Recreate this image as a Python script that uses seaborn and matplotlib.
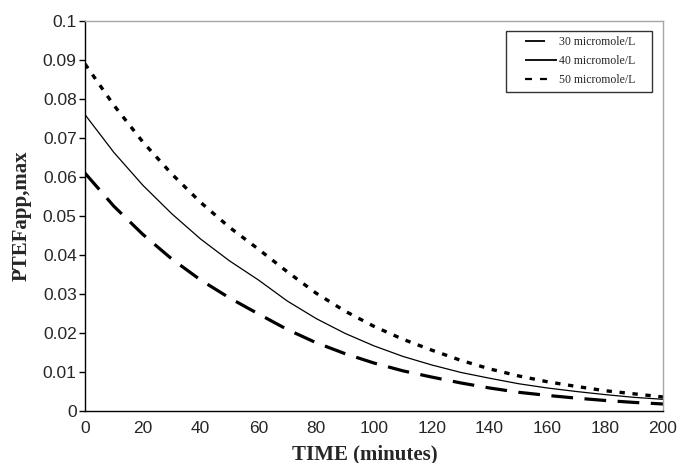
import matplotlib
matplotlib.use("Agg")
import matplotlib.pyplot as plt
from matplotlib.lines import Line2D
import pandas as pd
import seaborn as sns

# Sampling times (minutes)
time_min = [0, 10, 20, 30, 40, 50, 60, 70, 80, 90, 100,
            110, 120, 130, 140, 150, 160, 170, 180, 190, 200]

# PTEFapp,max at each concentration
ptef_30 = [0.0890, 0.0784, 0.0690, 0.0608, 0.0535, 0.0471, 0.0415, 0.0357,
           0.0302, 0.0256, 0.0217, 0.0184, 0.0156, 0.0130, 0.0108, 0.0090,
           0.0075, 0.0063, 0.0052, 0.0044, 0.0036]
ptef_40 = [0.0760, 0.0663, 0.0579, 0.0506, 0.0441, 0.0385, 0.0336, 0.0282,
           0.0237, 0.0199, 0.0167, 0.0140, 0.0118, 0.0099, 0.0084, 0.0070,
           0.0059, 0.0050, 0.0042, 0.0035, 0.0030]
ptef_50 = [0.0610, 0.0525, 0.0453, 0.0390, 0.0336, 0.0290, 0.0249, 0.0209,
           0.0175, 0.0147, 0.0123, 0.0103, 0.0087, 0.0072, 0.0059, 0.0048,
           0.0040, 0.0033, 0.0027, 0.0022, 0.0018]

series_labels = ["30 micromole/L", "40 micromole/L", "50 micromole/L"]
x_ticks = [0, 20, 40, 60, 80, 100, 120, 140, 160, 180, 200]
y_ticks = [0, 0.01, 0.02, 0.03, 0.04, 0.05, 0.06, 0.07, 0.08, 0.09, 0.1]
y_tick_labels = ["0", "0.01", "0.02", "0.03", "0.04", "0.05",
                 "0.06", "0.07", "0.08", "0.09", "0.1"]

df = pd.DataFrame({
    "time": time_min * 3,
    "ptef": ptef_30 + ptef_40 + ptef_50,
    "conc": [series_labels[0]] * len(time_min)
            + [series_labels[1]] * len(time_min)
            + [series_labels[2]] * len(time_min),
})

sns.set_theme(style="white")
plt.rcParams["font.family"] = ["Liberation Sans", "DejaVu Sans"]

fig = plt.figure(figsize=(6.81, 4.63), dpi=100)
ax = fig.add_axes([0.1248, 0.1123, 0.8488, 0.8423])

styles = {
    series_labels[0]: dict(lw=2.4, linestyle=(0, (1.6, 2.3)), dash_capstyle="butt"),
    series_labels[1]: dict(lw=0.9, linestyle="-"),
    series_labels[2]: dict(lw=2.3, linestyle=(0, (6.8, 3.6)), dash_capstyle="butt"),
}
for lab in series_labels:
    sub = df[df["conc"] == lab]
    sns.lineplot(data=sub, x="time", y="ptef", ax=ax, color="black",
                 legend=False, **styles[lab])

ax.set_xlim(0, 200)
ax.set_ylim(0, 0.1)
ax.set_xticks(x_ticks)
ax.set_xticklabels([str(t) for t in x_ticks])
ax.set_yticks(y_ticks)
ax.set_yticklabels(y_tick_labels)
ax.tick_params(axis="y", direction="out", length=4, width=1, color="black",
               pad=2, labelsize=12.5, left=True)
ax.tick_params(axis="x", length=0, pad=7, labelsize=12.5)

for side in ("left", "bottom"):
    ax.spines[side].set_color("black")
    ax.spines[side].set_linewidth(1.0)
for side in ("top", "right"):
    ax.spines[side].set_color("#a6a6a6")
    ax.spines[side].set_linewidth(1.0)

serif_bold = dict(family=["Liberation Serif", "DejaVu Serif"], weight="bold", size=15)
ax.set_xlabel("TIME (minutes)", fontdict=serif_bold)
ax.xaxis.set_label_coords(0.484, -0.085)
ax.set_ylabel("PTEFapp,max", fontdict=serif_bold, labelpad=8)


def handle_style(segments, lead, lw):
    """Dash pattern (in linewidth units) that starts with a blank lead."""
    pattern = tuple(s / lw for s in segments) + (300.0,)
    total = sum(pattern)
    return (total - lead / lw, pattern)


handles = [
    Line2D([], [], color="black", lw=1.3,
           linestyle=handle_style((14.4,), 10.1, 1.3), dash_capstyle="butt"),
    Line2D([], [], color="black", lw=1.3,
           linestyle=handle_style((23.0,), 10.1, 1.3), dash_capstyle="butt"),
    Line2D([], [], color="black", lw=1.6,
           linestyle=handle_style((5.0, 5.8, 5.0), 10.1, 1.6), dash_capstyle="butt"),
]
leg = ax.legend(handles, series_labels, loc="upper left",
                bbox_to_anchor=(0.7284, 0.0, 0.2526, 0.9744), mode="expand",
                borderaxespad=0, frameon=True, fancybox=False, edgecolor="black",
                prop=dict(family=["Liberation Serif", "DejaVu Serif"], size=8.5),
                handlelength=3.9, handletextpad=0.1, labelspacing=0.6,
                borderpad=0.45)
leg.get_frame().set_linewidth(1.0)

fig.savefig("out.png", dpi=100)
